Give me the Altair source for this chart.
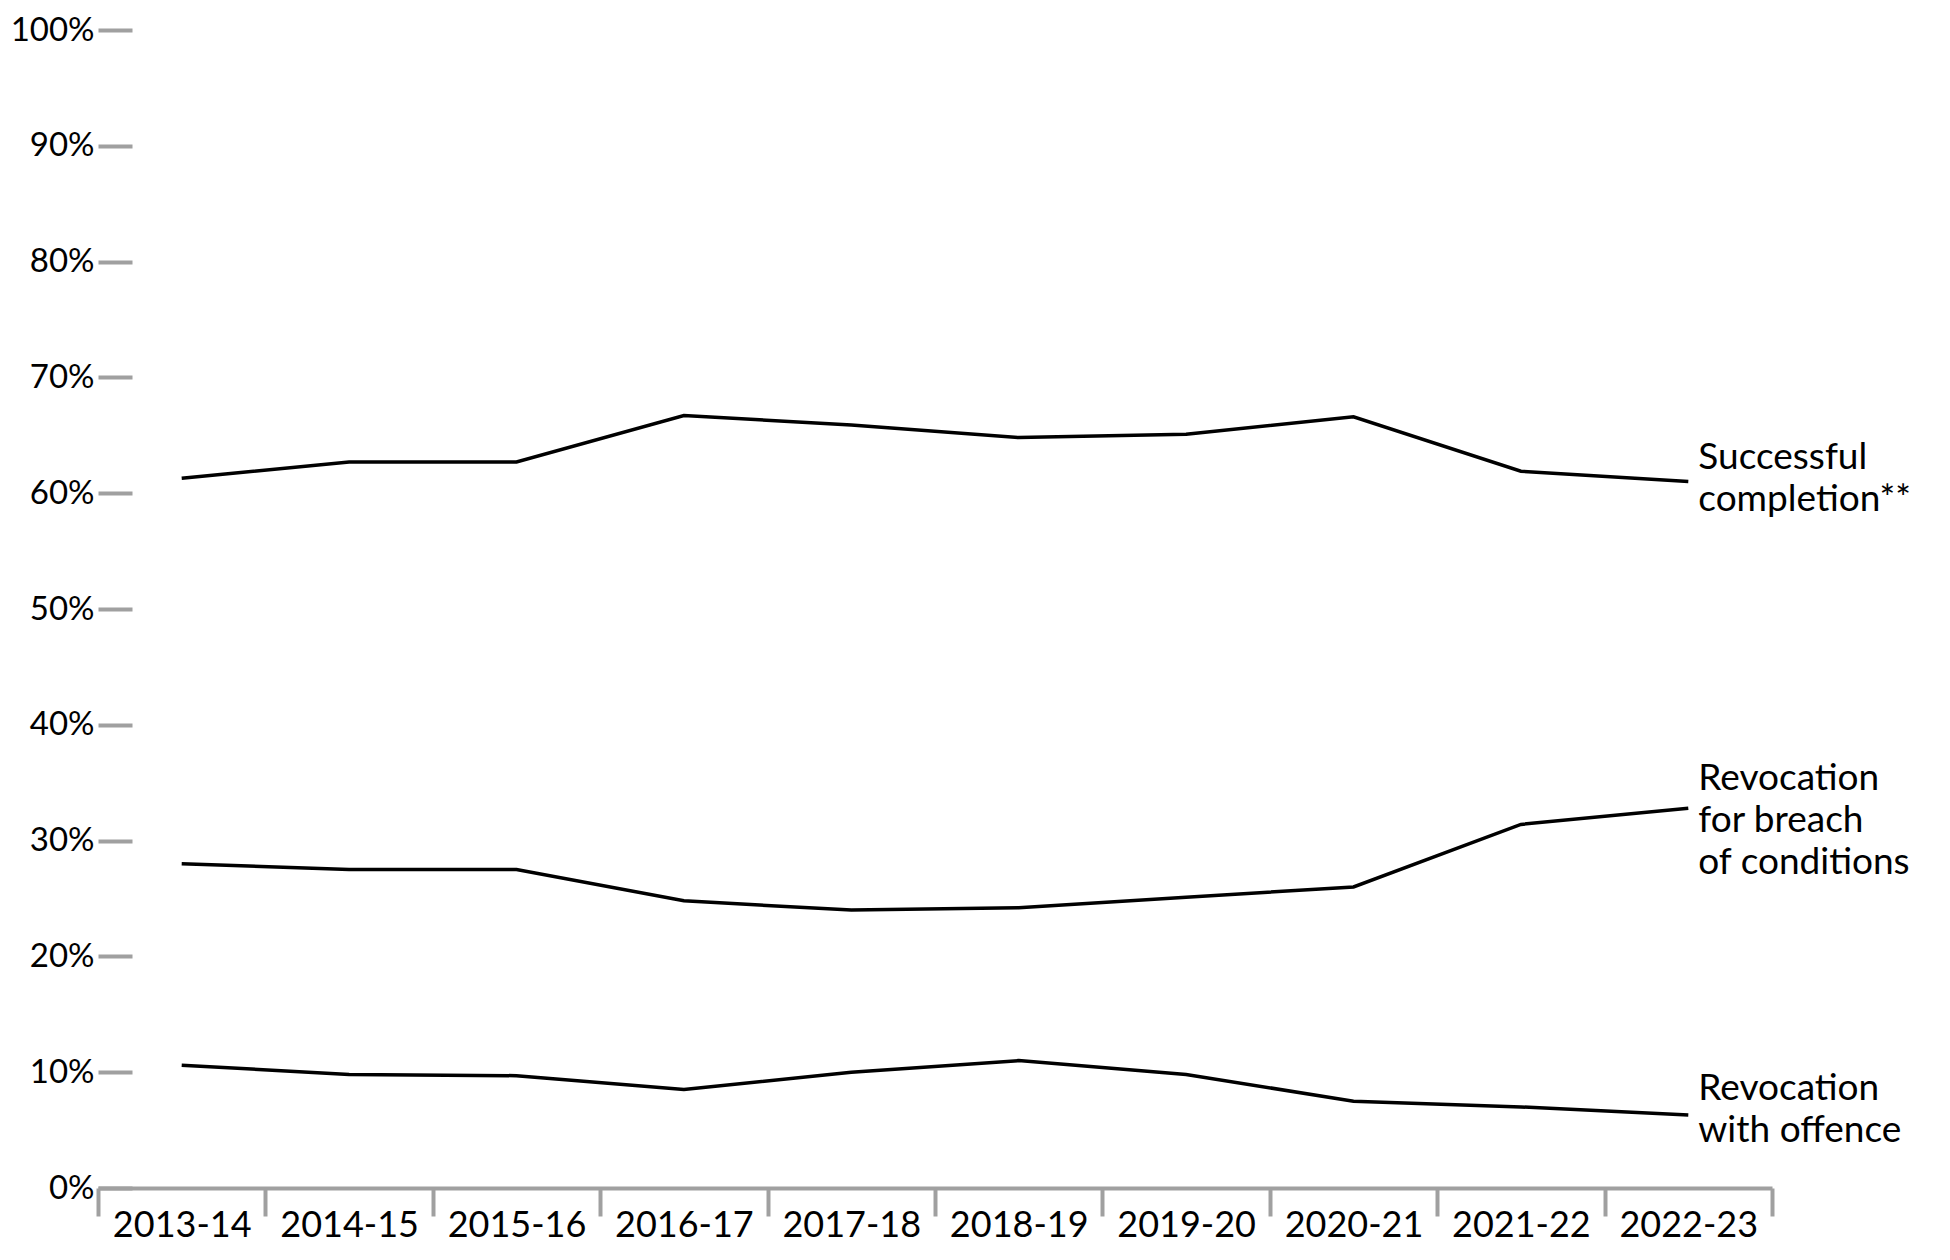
import altair as alt
import pandas as pd

years = ["2013-14", "2014-15", "2015-16", "2016-17", "2017-18",
         "2018-19", "2019-20", "2020-21", "2021-22", "2022-23"]
successful = [61.3, 62.7, 62.7, 66.7, 65.9, 64.8, 65.1, 66.6, 61.9, 61.0]
breach = [28.0, 27.5, 27.5, 24.8, 24.0, 24.2, 25.1, 26.0, 31.4, 32.8]
offence = [10.6, 9.8, 9.7, 8.5, 10.0, 11.0, 9.8, 7.5, 7.0, 6.3]

series_names = ["Successful completion**", "Revocation for breach of conditions",
                "Revocation with offence"]
label_texts = ["Successful\ncompletion**", "Revocation\nfor breach\nof conditions",
               "Revocation\nwith offence"]
y_ticks = [0, 10, 20, 30, 40, 50, 60, 70, 80, 90, 100]

rows = []
for name, vals in zip(series_names, [successful, breach, offence]):
    for yr, v in zip(years, vals):
        rows.append({"year": yr, "value": v, "series": name})
df = pd.DataFrame(rows)

FONT = "Lato"
FS = 36

x_enc = alt.X("year:N", sort=years, title=None,
              scale=alt.Scale(type="band", paddingInner=0, paddingOuter=0),
              axis=alt.Axis(labelAngle=0, tickBand="extent", domainColor="#a0a0a0",
                            domainWidth=4, tickColor="#a0a0a0", tickWidth=4, tickSize=28,
                            labelFont=FONT, labelFontSize=FS, labelColor="black",
                            labelBaseline="alphabetic", labelPadding=20))
y_enc = alt.Y("value:Q", title=None,
              scale=alt.Scale(domain=[0, 100], nice=False),
              axis=alt.Axis(values=y_ticks, labelExpr="datum.value + '%'", domain=False,
                            grid=False, offset=-34, tickSize=34, tickWidth=4,
                            tickColor="#a0a0a0", labelPadding=4, labelFont=FONT,
                            labelFontSize=33, labelColor="black"))

lines = alt.Chart(df).mark_line(color="black", strokeWidth=3.5).encode(
    x=x_enc, y=y_enc, detail="series:N")

label_dy = [-24, -29, -26]
layers = [lines]
for name, txt, dy in zip(series_names, label_texts, label_dy):
    last = df[(df.series == name) & (df.year == years[-1])].copy()
    last["label"] = txt
    layers.append(
        alt.Chart(last).mark_text(align="left", baseline="middle", dx=10, dy=dy,
                                  lineBreak="\n", lineHeight=42, font=FONT,
                                  fontSize=37, color="black").encode(
            x=alt.X("year:N", sort=years), y=alt.Y("value:Q"), text="label:N"))

chart = alt.layer(*layers).properties(
    width=1674, height=1158,
    autosize=alt.AutoSizeParams(type="none"),
    padding={"left": 90, "top": 22, "right": 160, "bottom": 60},
).configure_view(stroke=None)

chart.save("out.html", embed_options={"renderer": "svg", "actions": False})
